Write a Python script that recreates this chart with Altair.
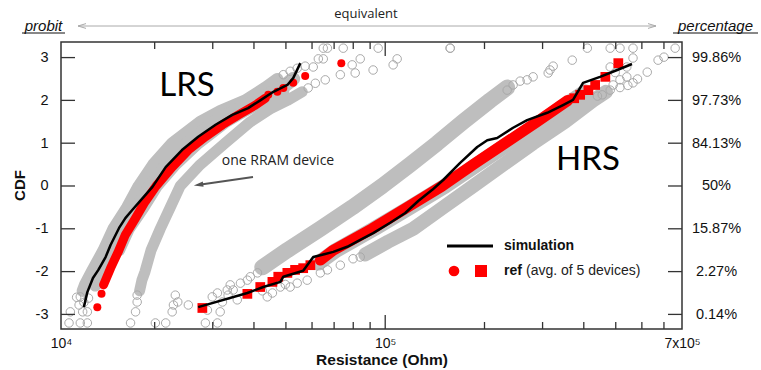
import altair as alt
import pandas as pd

# ---------------- values ----------------
# resistance in kOhm, CDF in probit units

# LRS: individual RRAM devices (dense central parts of their distributions)
lrs_dev_a_r = [12.1, 12.3, 12.9, 14.0, 15.0, 16.5, 17.9, 19.8, 22.6, 27.5, 31.6, 37.7, 43.3, 47.1]
lrs_dev_a_p = [-2.45, -2.3, -2.0, -1.5, -1.0, -0.5, 0.0, 0.5, 1.0, 1.5, 1.75, 2.0, 2.3, 2.5]
lrs_dev_b_r = [13.2, 13.7, 14.7, 16.0, 17.7, 19.4, 21.8, 25.3, 30.6, 35.1, 41.2, 48.7, 52.6]
lrs_dev_b_p = [-2.3, -2.0, -1.5, -1.0, -0.5, 0.0, 0.5, 1.0, 1.5, 1.75, 2.0, 2.3, 2.5]
lrs_dev_c_r = [15.6, 16.7, 18.5, 20.3, 23.1, 27.1, 32.9, 37.4, 43.6, 49.1]
lrs_dev_c_p = [-1.5, -1.0, -0.5, 0.0, 0.5, 1.0, 1.5, 1.75, 2.0, 2.2]
lrs_dev_d_r = [18.0, 18.3, 18.7, 19.5, 20.8, 22.3, 23.9, 27.5, 32.7, 39.0, 44.8, 50.5, 56.0]
lrs_dev_d_p = [-2.45, -2.2, -2.0, -1.5, -1.0, -0.5, 0.0, 0.5, 1.0, 1.5, 1.8, 2.0, 2.2]
# LRS: sparse tail measurements
lrs_tail_r = [11.0, 11.9, 12.5, 16.9, 11.1, 12.1, 12.5, 17.5, 11.8, 12.2, 17.7, 11.6, 11.9, 12.6, 17.7,
              49.1, 51.5, 54.1, 57.2, 60.5, 62.7, 64.9, 64.9, 66.8, 74.6, 95.2, 157.4, 79.4, 84.0, 105.7, 108.7,
              58.4, 61.4, 65.8, 73.1, 81.1, 91.9]
lrs_tail_p = [-3.2, -3.2, -3.2, -3.2, -2.94, -2.94, -2.94, -2.94, -2.78, -2.72, -2.71, -2.6, -2.59, -2.62, -2.55,
              2.6, 2.68, 2.75, 2.8, 2.78, 2.97, 2.97, 3.22, 3.22, 3.22, 3.22, 3.22, 2.83, 2.97, 2.83, 2.97,
              2.29, 2.4, 2.48, 2.6, 2.64, 2.71]
# LRS reference (avg. of 5 devices)
lrs_ref_dense_r = [14.0, 14.7, 15.5, 16.3, 17.5, 18.7, 20.2, 22.6, 25.3, 28.5, 32.1, 35.9, 40.4, 43.3]
lrs_ref_dense_p = [-2.31, -1.92, -1.54, -1.14, -0.75, -0.37, 0.0, 0.44, 0.84, 1.15, 1.43, 1.66, 1.89, 2.05]
lrs_ref_r = [13.4, 13.8, 44.2, 47.1, 49.1, 52.6, 57.2, 73.6]
lrs_ref_p = [-2.83, -2.52, 2.13, 2.2, 2.29, 2.41, 2.57, 2.87]
# LRS simulation
lrs_sim_r = [12.2, 12.5, 13.0, 13.5, 14.2, 14.7, 15.6, 16.3, 17.1, 18.5, 19.7, 21.6, 24.2, 27.1,
             30.6, 34.4, 38.4, 41.8, 45.8, 50.5, 52.6, 55.3]
lrs_sim_p = [-2.83, -2.48, -2.15, -1.96, -1.66, -1.38, -0.98, -0.75, -0.56, -0.26, -0.02, 0.44, 0.84, 1.15,
             1.43, 1.66, 1.82, 2.0, 2.2, 2.36, 2.52, 2.87]

# HRS: individual devices (dense central parts)
hrs_dev_a_r = [42.4, 50.5, 63.6, 79.4, 97.9, 119.0, 143.8, 172.3, 208.1, 234.3]
hrs_dev_a_p = [-1.9, -1.5, -1.0, -0.5, 0.0, 0.5, 1.0, 1.5, 2.0, 2.3]
hrs_dev_b_r = [62.7, 71.1, 92.6, 119.0, 152.0, 190.1, 237.6, 296.9, 369, 404]
hrs_dev_b_p = [-1.8, -1.5, -1.0, -0.5, 0.0, 0.5, 1.0, 1.5, 2.0, 2.2]
hrs_dev_c_r = [87.0, 102.1, 121.6, 149.9, 184.9, 227.8, 280.8, 351, 427, 467]
hrs_dev_c_p = [-1.6, -1.3, -1.0, -0.5, 0.0, 0.5, 1.0, 1.5, 2.0, 2.2]
# HRS: sparse tail measurements
hrs_tail_r = [20.1, 21.6, 28.5, 31.0, 22.6, 28.9, 31.6, 22.8, 25.3, 23.5, 32.1,
              23.1, 29.9, 31.0, 33.4, 35.6, 33.2, 34.6, 33.9, 36.4, 38.2, 39.0, 41.0,
              43.9, 45.5, 48.1, 51.5, 54.1, 58.0, 63.6, 66.8, 73.1, 79.9, 84.0, 42.4, 49.8,
              234.3, 244.2, 256.5, 269.3, 280.8, 312, 316, 323, 369, 410, 157.4,
              440, 455, 481, 491, 515, 540, 564, 582, 623, 515, 544, 672, 700, 757,
              564, 540, 481, 481, 515, 564, 498]
hrs_tail_p = [-3.2, -3.2, -3.2, -3.2, -2.94, -2.9, -2.94, -2.78, -2.78, -2.71, -2.71,
              -2.55, -2.59, -2.5, -2.55, -2.66, -2.43, -2.43, -2.31, -2.27, -2.2, -2.12, -2.03,
              -2.59, -2.5, -2.36, -2.36, -2.27, -2.2, -2.03, -1.96, -1.85, -1.7, -1.66, -2.45, -2.3,
              2.24, 2.36, 2.45, 2.48, 2.55, 2.64, 2.71, 2.8, 2.94, 3.22, 3.22,
              2.1, 2.13, 2.24, 2.36, 2.48, 2.55, 2.41, 2.5, 2.66, 2.3, 2.35, 2.94, 3.01, 3.22,
              2.99, 2.78, 2.78, 3.22, 3.22, 3.22, 2.65]
# HRS reference (avg. of 5 devices)
hrs_ref_dense_r = [63.6, 69.6, 91.3, 116.6, 148.9, 184.9, 231.0, 288.8, 358]
hrs_ref_dense_p = [-1.73, -1.5, -1.0, -0.5, 0.0, 0.5, 1.0, 1.5, 2.0]
hrs_ref_r = [27.9, 38.2, 41.8, 45.5, 47.4, 50.5, 53.3, 56.4, 59.3, 374, 390, 413, 433, 465, 509]
hrs_ref_p = [-2.85, -2.52, -2.36, -2.24, -2.12, -2.03, -1.96, -1.92, -1.85, 2.05, 2.13, 2.24, 2.36, 2.55, 2.87]
# HRS simulation
hrs_sim_r = [27.1, 38.2, 42.7, 48.1, 49.1, 56.4, 60.5, 64.9, 69.6, 76.7, 84.0, 91.9, 103.5, 115.0, 125.9,
             138.9, 149.9, 168.7, 190.1, 203.9, 218.5, 244.2, 269.3, 310, 346, 371, 398, 448, 505, 560]
hrs_sim_p = [-2.83, -2.5, -2.36, -2.24, -2.12, -1.98, -1.66, -1.6, -1.54, -1.42, -1.26, -1.1, -0.86, -0.63, -0.35,
             -0.09, 0.14, 0.54, 0.91, 1.07, 1.12, 1.36, 1.54, 1.71, 1.89, 2.01, 2.41, 2.55, 2.71, 2.85]

# axes
x_label_values = [10.4, 100, 794]
x_label_texts = ["10⁴", "10⁵", "7x10⁵"]
x_minor_ticks = [20, 30, 40, 50, 60, 70, 80, 90, 200, 300, 400, 500, 600, 700]
x_major_ticks = [100]
y_ticks = [-3, -2, -1, 0, 1, 2, 3]
y_left_labels = ["-3", "-2", "-1", "0", "1", "2", "3"]
y_right_labels = ["0.14%", "2.27%", "15.87%", "50%", "84.13%", "97.73%", "99.86%"]

# ---------------- styling / layout ----------------
W, H = 621, 287
GRAY_BAND = "#bebebe"
GRAY_PT = "#a9a9a9"
RED = "#ff0000"
FRAME = "#333333"
FONT = "Liberation Sans"

XS = alt.Scale(type="log", domain=[10.4, 794], nice=False)
YS = alt.Scale(domain=[-3.341, 3.364], nice=False, zero=False)


def frame(rs, ps):
    return pd.DataFrame({"r": rs, "p": ps, "i": list(range(len(rs)))})


def xy():
    return dict(x=alt.X("r:Q", scale=XS, axis=None), y=alt.Y("p:Q", scale=YS, axis=None))


def band(rs, ps, w, color):
    return alt.Chart(frame(rs, ps)).mark_line(
        strokeWidth=w, color=color, strokeCap="round", strokeJoin="round"
    ).encode(order="i:Q", **xy())


def hollow(rs, ps):
    return alt.Chart(frame(rs, ps)).mark_point(
        shape="circle", size=72, filled=False, color=GRAY_PT, strokeWidth=1, opacity=1
    ).encode(**xy())


def label_expr(values, texts):
    expr = "'" + texts[-1] + "'"
    for v, t in reversed(list(zip(values[:-1], texts[:-1]))):
        expr = f"(abs(datum.value - ({v})) < 1e-6 ? '{t}' : {expr})"
    return expr


ONE = pd.DataFrame({"k": [0]})


def txt(text, x, y, size, font=FONT, weight="normal", style="normal", align="center",
        baseline="middle", color="#111", angle=0):
    return alt.Chart(ONE).mark_text(
        text=text, font=font, fontSize=size, fontWeight=weight, fontStyle=style,
        align=align, baseline=baseline, color=color, angle=angle
    ).encode(x=alt.value(x), y=alt.value(y))


def seg(x1, y1, x2, y2, color, w):
    return alt.Chart(ONE).mark_rule(color=color, strokeWidth=w).encode(
        x=alt.value(x1), y=alt.value(y1), x2=alt.value(x2), y2=alt.value(y2))


def sym(shape, x, y, size, color, filled=True, angle=0, sw=1):
    return alt.Chart(ONE).mark_point(
        shape=shape, size=size, filled=filled, color=color, opacity=1, angle=angle, strokeWidth=sw
    ).encode(x=alt.value(x), y=alt.value(y))


layers = []
# gray device distributions
layers += [
    band(lrs_dev_a_r, lrs_dev_a_p, 12, GRAY_BAND),
    band(lrs_dev_b_r, lrs_dev_b_p, 14, GRAY_BAND),
    band(lrs_dev_c_r, lrs_dev_c_p, 12, GRAY_BAND),
    band(lrs_dev_d_r, lrs_dev_d_p, 11, GRAY_BAND),
    band(hrs_dev_a_r, hrs_dev_a_p, 16, GRAY_BAND),
    band(hrs_dev_b_r, hrs_dev_b_p, 15, GRAY_BAND),
    band(hrs_dev_c_r, hrs_dev_c_p, 14, GRAY_BAND),
    hollow(lrs_tail_r, lrs_tail_p),
    hollow(hrs_tail_r, hrs_tail_p),
]
# reference (red)
layers += [
    band(lrs_ref_dense_r, lrs_ref_dense_p, 9, RED),
    band(hrs_ref_dense_r, hrs_ref_dense_p, 11, RED),
    alt.Chart(frame(lrs_ref_r, lrs_ref_p)).mark_circle(size=64, color=RED, opacity=1).encode(**xy()),
    alt.Chart(frame(hrs_ref_r, hrs_ref_p)).mark_square(size=95, color=RED, opacity=1).encode(**xy()),
]
# simulation (black)
layers += [
    alt.Chart(frame(lrs_sim_r, lrs_sim_p)).mark_line(color="black", strokeWidth=2.5, strokeJoin="round").encode(order="i:Q", **xy()),
    alt.Chart(frame(hrs_sim_r, hrs_sim_p)).mark_line(color="black", strokeWidth=2.5, strokeJoin="round").encode(order="i:Q", **xy()),
]

# ticks (inward) and axes labels
xt_minor = pd.DataFrame({"r": x_minor_ticks})
xt_major = pd.DataFrame({"r": x_major_ticks})
yt = pd.DataFrame({"p": y_ticks})
bottom_axis = alt.Axis(
    orient="bottom", values=x_label_values, labelExpr=label_expr(x_label_values, x_label_texts),
    ticks=False, tickSize=0, domain=False, grid=False, labelPadding=7, labelFontSize=14,
    labelFont=FONT, labelColor="#111", labelFlush=False, labelOverlap=False, labelBound=False, title=None)
left_axis = alt.Axis(
    orient="left", values=y_ticks, labelExpr=label_expr(y_ticks, y_left_labels),
    ticks=False, tickSize=0, domain=False, grid=False, labelPadding=13, labelFontSize=14.5,
    labelFont=FONT, labelColor="#111", labelOverlap=False, labelBound=False, labelFlush=False, title=None)
right_axis = alt.Axis(
    orient="right", values=y_ticks, labelExpr=label_expr(y_ticks, y_right_labels),
    ticks=False, tickSize=0, domain=False, grid=False, labelPadding=34, labelAlign="center",
    labelFontSize=14.5, labelFont=FONT, labelColor="#111", labelOverlap=False, labelBound=False,
    labelFlush=False, title=None)

TK = dict(color=FRAME, strokeWidth=1.3)
layers += [
    alt.Chart(xt_minor).mark_rule(**TK).encode(
        x=alt.X("r:Q", scale=XS, axis=bottom_axis), y=alt.value(H), y2=alt.value(H - 7)),
    alt.Chart(xt_minor).mark_rule(**TK).encode(
        x=alt.X("r:Q", scale=XS, axis=None), y=alt.value(0), y2=alt.value(7)),
    alt.Chart(xt_major).mark_rule(**TK).encode(
        x=alt.X("r:Q", scale=XS, axis=None), y=alt.value(H), y2=alt.value(H - 14)),
    alt.Chart(xt_major).mark_rule(**TK).encode(
        x=alt.X("r:Q", scale=XS, axis=None), y=alt.value(0), y2=alt.value(14)),
    alt.Chart(yt).mark_rule(**TK).encode(
        y=alt.Y("p:Q", scale=YS, axis=left_axis), x=alt.value(0), x2=alt.value(14)),
    alt.Chart(yt).mark_rule(**TK).encode(
        y=alt.Y("p:Q", scale=YS, axis=right_axis), x=alt.value(W - 14), x2=alt.value(W)),
]

# titles and annotations (pixel positions relative to the plot area)
layers += [
    txt("CDF", -41, 143.5, 15, weight="bold", angle=270, color="#111"),
    txt("Resistance (Ohm)", 321, 318, 15.5, weight="bold", color="#111"),
    txt("LRS", 126, 44, 33, font="Lato", color="#000"),
    txt("HRS", 527, 118, 33, font="Lato", color="#000"),
    txt("one RRAM device", 217, 119, 14, font="Open Sans", color="#222"),
    seg(192, 135, 140, 142.4, "#555555", 2),
    sym("M-1,0L1,-0.55L1,0.55Z", 137.5, 142.8, 90, "#555555", angle=352),
    txt("equivalent", 305, -24, 13, font="Open Sans", baseline="alphabetic", color="#222"),
    seg(17, -16, 595, -16, "#aaaaaa", 1),
    sym("M1,-0.6L-1,0L1,0.6", 21, -16, 64, "#aaaaaa", filled=False),
    sym("M-1,-0.6L1,0L-1,0.6", 591, -16, 64, "#aaaaaa", filled=False),
    txt("probit", -17.5, -11, 15, style="italic", baseline="alphabetic", color="#111"),
    seg(-39, -9, 4, -9, "#111111", 1),
    txt("percentage", 654.5, -11, 15, style="italic", baseline="alphabetic", color="#111"),
    seg(612, -9, 697, -9, "#111111", 1),
    # legend
    seg(386, 204, 432, 204, "black", 3),
    txt("simulation", 443, 204, 14, weight="bold", align="left", color="#111"),
    sym("circle", 393, 229, 115, RED),
    sym("square", 420, 229, 144, RED),
    txt("ref", 443, 229, 14, weight="bold", align="left", color="#111"),
    txt("(avg. of 5 devices)", 465, 229, 14, align="left", color="#222"),
]

chart = (
    alt.layer(*layers)
    .properties(
        width=W, height=H,
        padding={"left": 61, "top": 42, "right": 79, "bottom": 41},
        autosize=alt.AutoSizeParams(type="none"),
    )
    .resolve_axis(x="independent", y="independent")
    .configure(font=FONT)
    .configure_view(stroke=FRAME, strokeWidth=1.5)
)

chart.save("out.html", embed_options={"renderer": "svg", "actions": False})
